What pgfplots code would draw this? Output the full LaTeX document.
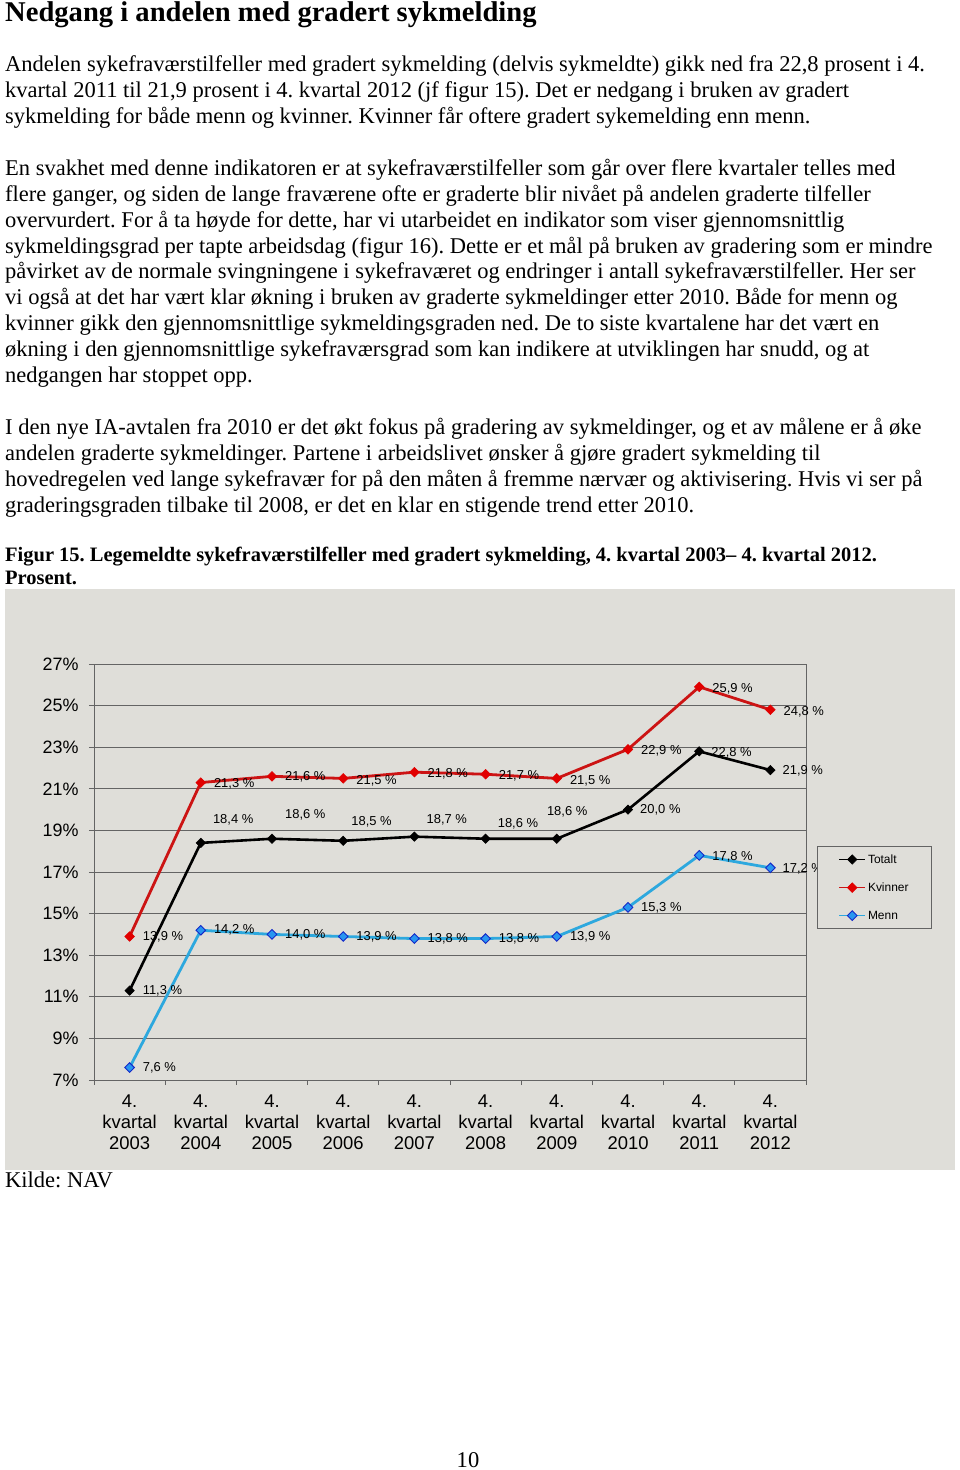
\documentclass[border=0pt]{standalone}
\usepackage{fontspec}
\setmainfont{Liberation Serif}
\newfontfamily\arial{Liberation Sans}
\usepackage{pgfplots}
\pgfplotsset{compat=1.18}
\definecolor{bgc}{RGB}{223,222,217}
\definecolor{kred}{RGB}{204,20,20}
\definecolor{kredm}{RGB}{225,0,0}
\definecolor{mline}{RGB}{45,168,222}
\definecolor{mfill}{RGB}{40,150,240}
\definecolor{medge}{RGB}{20,40,200}
\definecolor{gridc}{RGB}{100,100,100}
\frenchspacing
\newcommand\bodyfont{\fontsize{22.6}{26}\selectfont}
\newcommand\capfont{\fontsize{20.55}{24}\selectfont\bfseries}
\newcommand\tl[2]{\node[anchor=base west,inner sep=0pt] at (5bp,-#1bp) {\bodyfont #2};}
\newcommand\bl[2]{\node[anchor=base west,inner sep=0pt] at (5bp,-#1bp) {\capfont #2};}

\begin{document}
\begin{tikzpicture}[lab/.style={font=\arial\fontsize{13}{15}\selectfont, anchor=west, inner sep=0pt, text=black}]
\path[use as bounding box, fill=white] (0,0) rectangle (960bp,-1470bp);
\node[anchor=base west, inner sep=0pt] at (5bp,-21bp) {\fontsize{28.7}{32}\selectfont\bfseries Nedgang i andelen med gradert sykmelding};
\tl{71}{Andelen sykefraværstilfeller med gradert sykmelding (delvis sykmeldte) gikk ned fra 22,8 prosent i 4.}
\tl{97}{kvartal 2011 til 21,9 prosent i 4. kvartal 2012 (jf figur 15). Det er nedgang i bruken av gradert}
\tl{123}{sykmelding for både menn og kvinner. Kvinner får oftere gradert sykemelding enn menn.}
\tl{175}{En svakhet med denne indikatoren er at sykefraværstilfeller som går over flere kvartaler telles med}
\tl{201}{flere ganger, og siden de lange fraværene ofte er graderte blir nivået på andelen graderte tilfeller}
\tl{227}{overvurdert. For å ta høyde for dette, har vi utarbeidet en indikator som viser gjennomsnittlig}
\tl{253}{sykmeldingsgrad per tapte arbeidsdag (figur 16). Dette er et mål på bruken av gradering som er mindre}
\tl{278}{påvirket av de normale svingningene i sykefraværet og endringer i antall sykefraværstilfeller. Her ser}
\tl{304}{vi også at det har vært klar økning i bruken av graderte sykmeldinger etter 2010. Både for menn og}
\tl{330}{kvinner gikk den gjennomsnittlige sykmeldingsgraden ned. De to siste kvartalene har det vært en}
\tl{356}{økning i den gjennomsnittlige sykefraværsgrad som kan indikere at utviklingen har snudd, og at}
\tl{382}{nedgangen har stoppet opp.}
\tl{434}{I den nye IA-avtalen fra 2010 er det økt fokus på gradering av sykmeldinger, og et av målene er å øke}
\tl{460}{andelen graderte sykmeldinger. Partene i arbeidslivet ønsker å gjøre gradert sykmelding til}
\tl{486}{hovedregelen ved lange sykefravær for på den måten å fremme nærvær og aktivisering. Hvis vi ser på}
\tl{512}{graderingsgraden tilbake til 2008, er det en klar en stigende trend etter 2010.}
\bl{561}{Figur 15. Legemeldte sykefraværstilfeller med gradert sykmelding, 4. kvartal 2003– 4. kvartal 2012.}
\bl{584}{Prosent.}
\fill[bgc] (5bp,-589bp) rectangle (955bp,-1170bp);
\begin{axis}[
  at={(94bp,-1080bp)}, anchor=south west,
  scale only axis, width=712bp, height=416bp,
  xmin=-0.5, xmax=9.5, ymin=7, ymax=27,
  clip=false,
  axis lines=left,
  axis line style={-, gridc, line width=0.9bp},
  /pgf/number format/assume math mode=true,
  ytick={7,9,...,27},
  yticklabel={\pgfmathprintnumber{\tick}\%},
  xtick={-0.5,0.5,...,9.5},
  x tick label as interval,
  xticklabels={{4.\\kvartal\\2003},{4.\\kvartal\\2004},{4.\\kvartal\\2005},{4.\\kvartal\\2006},{4.\\kvartal\\2007},{4.\\kvartal\\2008},{4.\\kvartal\\2009},{4.\\kvartal\\2010},{4.\\kvartal\\2011},{4.\\kvartal\\2012}},
  xticklabel style={align=center, font=\arial\fontsize{18.5}{21}\selectfont, yshift=-6bp},
  yticklabel style={font=\arial\fontsize{18}{21}\selectfont, xshift=-7bp},
  tick align=outside, major tick length=5bp,
  tick style={gridc, line width=0.9bp},
  ymajorgrids,
  major grid style={gridc, line width=0.9bp},
  legend style={at={(1.0154,0.5625)}, anchor=north west, fill=bgc, draw=gridc, line width=0.9bp,
    font=\arial\fontsize{12}{14}\selectfont, inner xsep=21bp, inner ysep=6bp, row sep=14bp,
    nodes={inner sep=2bp}},
  legend cell align=left,
  legend image code/.code={\draw[mark repeat=2,mark phase=2,#1, line width=1.6bp] plot coordinates {(0bp,0bp) (13bp,0bp) (26bp,0bp)};},
]
\addplot[black, line width=2.6bp, mark=square*, mark size=3.3bp, mark options={rotate=45, fill=black, line width=0.6bp}]
  coordinates {(0,11.3)(1,18.4)(2,18.6)(3,18.5)(4,18.7)(5,18.6)(6,18.6)(7,20.0)(8,22.8)(9,21.9)};
\addplot[kred, line width=2.8bp, mark=square*, mark size=3.4bp, mark options={rotate=45, fill=kredm, draw=kredm, line width=0.6bp}]
  coordinates {(0,13.9)(1,21.3)(2,21.6)(3,21.5)(4,21.8)(5,21.7)(6,21.5)(7,22.9)(8,25.9)(9,24.8)};
\addplot[mline, line width=2.8bp, mark=square*, mark size=3.4bp, mark options={rotate=45, fill=mfill, draw=medge, line width=0.9bp}]
  coordinates {(0,7.6)(1,14.2)(2,14.0)(3,13.9)(4,13.8)(5,13.8)(6,13.9)(7,15.3)(8,17.8)(9,17.2)};
\draw[gridc, line width=0.9bp] (rel axis cs:1,0) -- (rel axis cs:1,1);
% Totalt labels
\node[lab, xshift=13bp] at (axis cs:0,11.3) {11,3 \%};
\node[lab, xshift=12bp, yshift=23bp] at (axis cs:1,18.4) {18,4 \%};
\node[lab, xshift=13bp, yshift=24bp] at (axis cs:2,18.6) {18,6 \%};
\node[lab, xshift=8bp, yshift=19bp] at (axis cs:3,18.5) {18,5 \%};
\node[lab, xshift=12bp, yshift=17bp] at (axis cs:4,18.7) {18,7 \%};
\node[lab, xshift=12bp, yshift=15bp] at (axis cs:5,18.6) {18,6 \%};
\node[lab, xshift=-10bp, yshift=27bp] at (axis cs:6,18.6) {18,6 \%};
\node[lab, xshift=12bp] at (axis cs:7,20.0) {20,0 \%};
\node[lab, xshift=12bp, yshift=-1bp] at (axis cs:8,22.8) {22,8 \%};
\node[lab, xshift=12bp, yshift=-1bp] at (axis cs:9,21.9) {21,9 \%};
% Kvinner labels
\node[lab, xshift=13bp] at (axis cs:0,13.9) {13,9 \%};
\node[lab, xshift=13bp, yshift=-1.5bp] at (axis cs:1,21.3) {21,3 \%};
\node[lab, xshift=13bp, yshift=-0.5bp] at (axis cs:2,21.6) {21,6 \%};
\node[lab, xshift=13bp, yshift=-2bp] at (axis cs:3,21.5) {21,5 \%};
\node[lab, xshift=13bp, yshift=-1.5bp] at (axis cs:4,21.8) {21,8 \%};
\node[lab, xshift=13bp, yshift=-1.5bp] at (axis cs:5,21.7) {21,7 \%};
\node[lab, xshift=13bp, yshift=-2bp] at (axis cs:6,21.5) {21,5 \%};
\node[lab, xshift=13bp, yshift=-2bp] at (axis cs:7,22.9) {22,9 \%};
\node[lab, xshift=13bp, yshift=-2bp] at (axis cs:8,25.9) {25,9 \%};
\node[lab, xshift=13bp, yshift=-2bp] at (axis cs:9,24.8) {24,8 \%};
% Menn labels
\node[lab, xshift=13bp] at (axis cs:0,7.6) {7,6 \%};
\node[lab, xshift=13bp] at (axis cs:1,14.2) {14,2 \%};
\node[lab, xshift=13bp] at (axis cs:2,14.0) {14,0 \%};
\node[lab, xshift=13bp] at (axis cs:3,13.9) {13,9 \%};
\node[lab, xshift=13bp] at (axis cs:4,13.8) {13,8 \%};
\node[lab, xshift=13bp] at (axis cs:5,13.8) {13,8 \%};
\node[lab, xshift=13bp] at (axis cs:6,13.9) {13,9 \%};
\node[lab, xshift=13bp] at (axis cs:7,15.3) {15,3 \%};
\node[lab, xshift=13bp, yshift=-1bp] at (axis cs:8,17.8) {17,8 \%};
\node[lab, xshift=12bp, yshift=-1bp] at (axis cs:9,17.2) {17,2 \%};
\legend{Totalt,Kvinner,Menn}
\end{axis}
\tl{1187}{Kilde: NAV}
\node[anchor=base, inner sep=0pt] at (468bp,-1467bp) {\bodyfont 10};
\end{tikzpicture}
\end{document}
